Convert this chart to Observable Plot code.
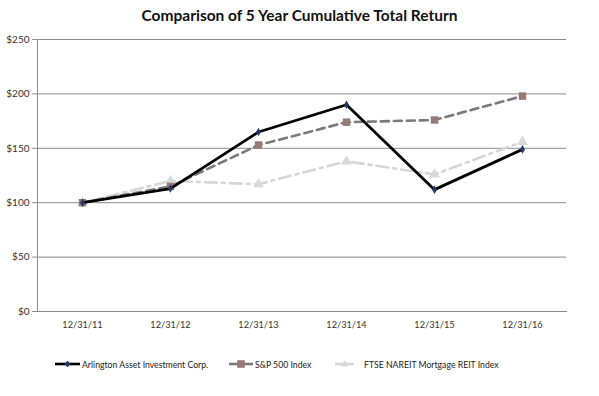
<!DOCTYPE html>
<html><head><meta charset="utf-8">
<script src="https://cdn.jsdelivr.net/npm/d3@7"></script>
<script src="https://cdn.jsdelivr.net/npm/@observablehq/plot@0.6"></script>
<style>
body{margin:0;width:599px;height:396px;position:relative;background:#fff;font-family:Lato,"Open Sans",sans-serif;overflow:hidden}
#title{position:absolute;left:0;top:6px;width:599px;text-align:center;font-weight:bold;font-size:15.5px;color:#111}
#chart{position:absolute;left:0;top:30px}
.leg{position:absolute;top:356px;font-size:8.7px;color:#222;display:flex;align-items:center;height:16px;white-space:nowrap}
.leg svg{margin-right:2px}
#chart g[aria-label="x-axis tick label"] text{font-size:9.2px}
</style></head><body>
<div id="title"></div>
<div id="chart"></div>
<div id="legend"></div>
<script>
const title = "Comparison of 5 Year Cumulative Total Return";
const dates = ["12/31/11","12/31/12","12/31/13","12/31/14","12/31/15","12/31/16"];
const seriesNames = ["Arlington Asset Investment Corp.","S&P 500 Index","FTSE NAREIT Mortgage REIT Index"];
const arlington = [100, 113, 165, 190, 112, 149];
const sp500 = [100, 115, 153, 174, 176, 198];
const ftse = [100, 120, 117, 138, 126, 156];
const yTicks = [0, 50, 100, 150, 200, 250];

document.getElementById("title").textContent = title;

const toRows = (vals, name) => vals.map((v, i) => ({date: dates[i], value: v, series: name}));
const rA = toRows(arlington, seriesNames[0]);
const rS = toRows(sp500, seriesNames[1]);
const rF = toRows(ftse, seriesNames[2]);

const styles = [
  {stroke:"#000000", dash:null, marker:"diamond", mfill:"#1f3a66", r:2.6},
  {stroke:"#7a7a7a", dash:"8,5", marker:"square", mfill:"#9a7873", r:4.2},
  {stroke:"#d6d6d6", dash:"12,5,3,5", marker:"triangle", mfill:"#d9d9d9", r:4}
];

const chart = Plot.plot({
  width: 599, height: 310,
  marginLeft: 37, marginRight: 33, marginTop: 9, marginBottom: 29,
  style: {fontFamily: "Lato, 'Open Sans', sans-serif", fontSize: "10px", color: "#333", background: "#fff"},
  x: {type: "point", domain: dates, padding: 0.5},
  y: {domain: [0, 250]},
  marks: [
    Plot.gridY(yTicks, {stroke: "#8c8c8c", strokeOpacity: 1, strokeWidth: 1}),
    Plot.axisY({ticks: yTicks, tickFormat: d => "$" + d, tickSize: 5, tickPadding: 3, stroke: "#8c8c8c", label: null, fill: "#333"}),
    Plot.axisX({tickSize: 0, tickPadding: 10, label: null, fill: "#333"}),
    Plot.frame({anchor: "left", stroke: "#8c8c8c"}),
    Plot.frame({anchor: "bottom", stroke: "#8c8c8c"}),
    Plot.line(rF, {x: "date", y: "value", stroke: styles[2].stroke, strokeWidth: 2.6, strokeDasharray: styles[2].dash}),
    Plot.dot(rF, {x: "date", y: "value", symbol: "triangle", fill: styles[2].mfill, r: styles[2].r}),
    Plot.line(rS, {x: "date", y: "value", stroke: styles[1].stroke, strokeWidth: 2.6, strokeDasharray: styles[1].dash}),
    Plot.dot(rS, {x: "date", y: "value", symbol: "square", fill: styles[1].mfill, r: styles[1].r}),
    Plot.line(rA, {x: "date", y: "value", stroke: styles[0].stroke, strokeWidth: 2.8}),
    Plot.dot(rA, {x: "date", y: "value", symbol: "diamond", fill: styles[0].mfill, r: styles[0].r})
  ]
});
document.getElementById("chart").appendChild(chart);

// legend
const legLefts = [55, 229, 335];
const legLineW = [25, 24, 19];
const symPaths = {
  diamond: "M0,-3.2L3.2,0L0,3.2L-3.2,0Z",
  square: "M-3.8,-3.8H3.8V3.8H-3.8Z",
  triangle: "M0,-4L3.6,2.6H-3.6Z"
};
const leg = document.getElementById("legend");
seriesNames.forEach((name, i) => {
  const s = styles[i];
  const div = document.createElement("div");
  div.className = "leg";
  div.style.left = legLefts[i] + "px";
  const w = legLineW[i];
  const gap = i === 2 ? 8 : 0;
  div.innerHTML = `<svg width="${w + gap}" height="12"><line x1="0" x2="${w}" y1="6" y2="6" stroke="${s.stroke}" stroke-width="2.6"/><path transform="translate(${w/2},6)" d="${symPaths[s.marker]}" fill="${s.mfill}"/></svg><span></span>`;
  div.querySelector("span").textContent = name;
  leg.appendChild(div);
});
</script>
</body></html>
